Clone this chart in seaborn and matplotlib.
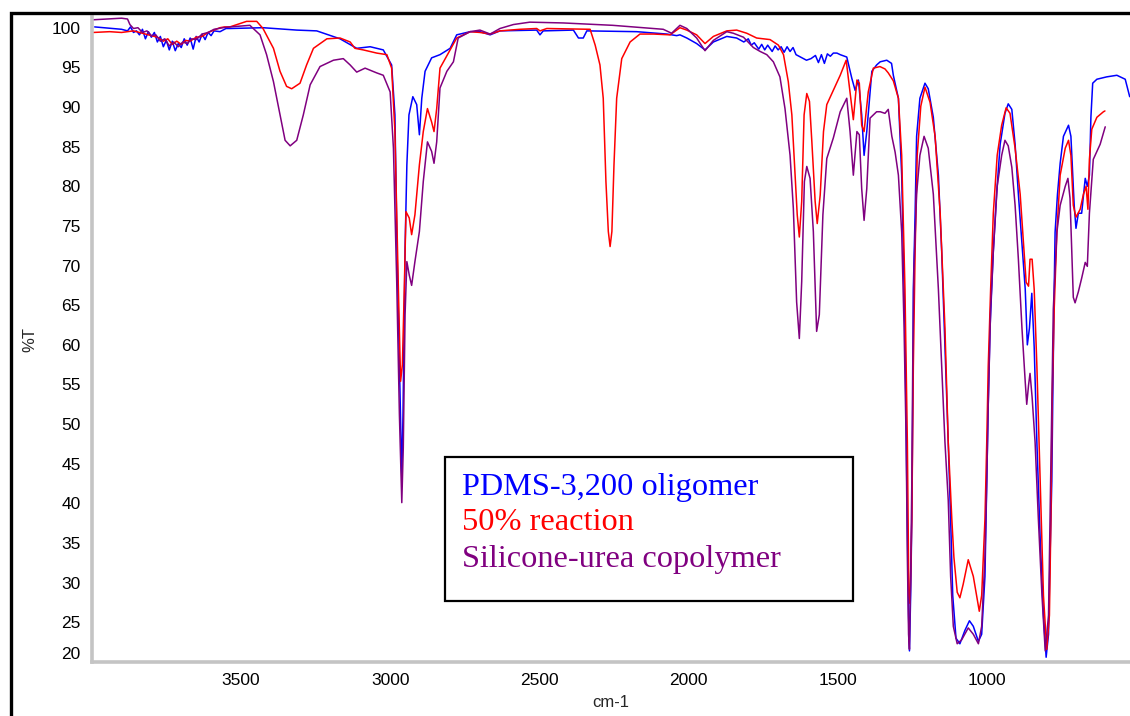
import numpy as np
import pandas as pd
import matplotlib
matplotlib.use("Agg")
import matplotlib.pyplot as plt
import seaborn as sns
from matplotlib.ticker import MultipleLocator
from matplotlib.patches import Rectangle

# ---------------- data (wavenumber cm-1, %T) ----------------
blue_wn = [3990, 3960, 3930, 3900, 3880, 3870, 3860, 3850, 3840, 3830, 3820, 3810, 3800, 3790, 3780,
           3770, 3760, 3750, 3740, 3730, 3720, 3710, 3700, 3690, 3680, 3670, 3660, 3650, 3640, 3630,
           3620, 3610, 3600, 3590, 3570, 3550, 3537, 3426, 3313, 3246, 3168, 3112, 3067, 3023, 2995,
           2984, 2977, 2970, 2961, 2957, 2950, 2944, 2937, 2924, 2911, 2902, 2894, 2883, 2861, 2833,
           2799, 2777, 2732, 2699, 2665, 2632, 2509, 2498, 2487, 2386, 2369, 2353, 2341, 2174, 2073,
           2040, 2029, 2006, 1973, 1945, 1917, 1872, 1839, 1815, 1800, 1790, 1780, 1765, 1755, 1745,
           1735, 1720, 1710, 1700, 1690, 1680, 1670, 1660, 1650, 1640, 1630, 1620, 1605, 1590, 1575,
           1565, 1555, 1545, 1535, 1525, 1515, 1503, 1492, 1470, 1453, 1442, 1431, 1420, 1412, 1403,
           1386, 1370, 1358, 1336, 1320, 1314, 1297, 1286, 1275, 1269, 1263, 1260, 1256, 1252, 1249,
           1247, 1241, 1236, 1225, 1208, 1197, 1180, 1163, 1152, 1141, 1130, 1122, 1115, 1104, 1091,
           1074, 1059, 1046, 1029, 1018, 1007, 1001, 996, 990, 979, 968, 956, 940, 929, 917,
           906, 895, 883, 872, 865, 858, 850, 842, 833, 822, 811, 802, 794, 789, 783,
           780, 775, 772, 764, 755, 744, 727, 719, 713, 708, 702, 694, 683, 671, 664,
           657, 652, 646, 632, 599, 565, 537, 522]
blue_t = [100.1, 100.0, 99.9, 99.8, 99.6, 100.1, 99.4, 99.6, 99.1, 99.8, 98.6, 99.5, 98.8, 99.4, 98.2,
          98.9, 97.6, 98.4, 97.2, 98.3, 97.1, 98.0, 97.5, 98.6, 97.8, 98.7, 97.3, 98.9, 98.2, 99.2,
          98.5, 99.4, 99.0, 99.6, 99.5, 99.9, 99.9, 100.0, 99.7, 99.6, 98.6, 97.4, 97.6, 97.2, 95.3,
          89.0, 72.2, 59.6, 43.2, 51.0, 72.2, 82.7, 89.0, 91.3, 90.3, 86.5, 91.1, 94.5, 96.2, 96.6,
          97.4, 99.1, 99.5, 99.5, 99.1, 99.6, 99.7, 99.1, 99.6, 99.7, 98.7, 98.7, 99.6, 99.5, 99.2,
          99.0, 99.1, 98.7, 98.0, 97.2, 98.2, 98.9, 98.7, 98.2, 98.6, 97.8, 98.1, 97.3, 97.9, 97.2,
          97.8, 97.0, 97.7, 97.2, 97.6, 96.9, 97.6, 97.0, 97.5, 96.6, 96.4, 96.2, 95.9, 96.1, 96.5,
          95.6, 96.6, 95.5, 96.7, 96.4, 96.8, 96.8, 96.6, 96.3, 93.6, 92.1, 93.4, 89.0, 83.9, 86.9,
          94.5, 95.3, 95.7, 95.9, 95.5, 94.0, 91.1, 81.4, 62.1, 42.8, 25.9, 21.4, 28.4, 38.0, 52.5,
          67.0, 76.6, 86.3, 91.1, 93.0, 92.3, 88.7, 81.4, 71.8, 59.7, 47.7, 38.0, 28.4, 23.0, 22.3,
          24.0, 25.2, 24.5, 22.6, 23.5, 30.8, 42.8, 52.5, 62.1, 71.8, 79.0, 85.3, 89.2, 90.4, 89.7,
          85.3, 79.0, 72.8, 67.0, 60.0, 62.1, 66.5, 59.7, 47.7, 35.6, 25.9, 20.6, 23.5, 33.2, 42.8,
          52.5, 67.0, 74.2, 79.0, 82.9, 86.3, 87.7, 86.3, 81.4, 77.6, 74.7, 76.6, 76.6, 81.0, 80.0,
          81.4, 88.7, 93.0, 93.5, 93.8, 94.0, 93.5, 91.3]

red_wn = [3995, 3940, 3900, 3860, 3830, 3800, 3780, 3760, 3745, 3730, 3715, 3700, 3685, 3670, 3650,
          3630, 3610, 3590, 3570, 3555, 3537, 3481, 3447, 3426, 3391, 3369, 3347, 3330, 3302, 3280,
          3257, 3212, 3168, 3134, 3118, 3090, 3045, 3011, 2995, 2984, 2973, 2965, 2959, 2952, 2947,
          2936, 2928, 2917, 2902, 2889, 2875, 2861, 2853, 2844, 2833, 2805, 2777, 2732, 2699, 2665,
          2632, 2565, 2509, 2498, 2475, 2330, 2313, 2297, 2286, 2277, 2269, 2263, 2257, 2250, 2241,
          2224, 2196, 2163, 2118, 2062, 2029, 2006, 1973, 1945, 1917, 1872, 1839, 1805, 1772, 1727,
          1699, 1682, 1666, 1654, 1643, 1636, 1629, 1621, 1613, 1604, 1595, 1587, 1576, 1569, 1559,
          1548, 1537, 1515, 1492, 1472, 1459, 1448, 1436, 1428, 1420, 1412, 1398, 1381, 1359, 1342,
          1331, 1314, 1297, 1286, 1275, 1267, 1262, 1258, 1252, 1247, 1241, 1234, 1222, 1208, 1191,
          1174, 1157, 1141, 1130, 1118, 1111, 1100, 1091, 1080, 1063, 1046, 1026, 1018, 1007, 1001,
          996, 988, 979, 966, 951, 936, 923, 906, 889, 876, 869, 861, 856, 849, 842,
          833, 822, 811, 800, 791, 786, 782, 775, 766, 755, 738, 727, 719, 711, 702,
          688, 677, 668, 662, 657, 649, 632, 610, 605]
red_t = [99.4, 99.5, 99.4, 99.6, 99.3, 99.0, 98.8, 98.3, 98.6, 97.9, 98.3, 97.9, 98.4, 98.3, 98.8,
         98.9, 99.4, 99.7, 100.0, 100.1, 100.1, 100.8, 100.8, 99.9, 97.4, 94.5, 92.6, 92.3, 93.0, 95.3,
         97.4, 98.6, 98.7, 98.2, 97.4, 97.2, 96.8, 96.6, 94.9, 86.9, 68.0, 55.4, 57.5, 68.0, 76.8,
         76.0, 73.9, 76.4, 82.7, 86.9, 89.8, 88.1, 86.9, 89.8, 94.9, 96.8, 98.7, 99.5, 99.4, 99.2,
         99.6, 99.8, 99.9, 99.6, 99.9, 99.8, 97.8, 95.3, 91.1, 80.6, 74.3, 72.4, 74.3, 82.7, 91.1,
         96.1, 98.2, 99.2, 99.2, 99.1, 100.0, 99.7, 99.1, 98.0, 98.9, 99.6, 99.7, 99.3, 98.7, 98.5,
         97.8, 96.6, 93.2, 89.0, 81.4, 76.4, 73.6, 78.1, 89.0, 91.7, 90.7, 85.6, 78.1, 75.3, 78.9,
         86.9, 90.3, 92.1, 94.0, 95.9, 91.9, 88.4, 93.4, 93.0, 87.7, 86.9, 91.9, 94.9, 95.1, 94.8,
         94.3, 93.3, 91.1, 83.9, 67.0, 47.7, 28.4, 27.4, 38.0, 57.3, 71.8, 83.9, 90.1, 92.5, 90.6,
         86.3, 76.6, 62.1, 47.7, 38.0, 33.2, 28.8, 28.1, 29.8, 32.9, 30.8, 26.4, 28.4, 38.0, 47.7,
         57.3, 67.0, 76.6, 83.9, 87.7, 89.9, 89.2, 84.8, 79.0, 71.8, 67.9, 67.4, 70.8, 70.8, 67.0,
         57.3, 42.8, 28.4, 21.6, 25.9, 38.0, 52.5, 64.5, 74.2, 81.4, 84.8, 85.8, 83.9, 77.6, 76.1,
         77.1, 79.0, 80.0, 77.1, 83.4, 87.2, 88.7, 89.4, 89.5]

purple_wn = [3995, 3950, 3900, 3880, 3872, 3860, 3845, 3830, 3815, 3800, 3785, 3770, 3755, 3740, 3725,
             3710, 3695, 3680, 3665, 3650, 3630, 3610, 3590, 3560, 3537, 3470, 3436, 3414, 3391, 3369,
             3352, 3335, 3313, 3291, 3268, 3235, 3190, 3157, 3134, 3112, 3084, 3045, 3023, 3000, 2989,
             2978, 2969, 2961, 2956, 2950, 2944, 2936, 2928, 2917, 2902, 2889, 2875, 2861, 2853, 2844,
             2833, 2810, 2788, 2772, 2732, 2699, 2665, 2632, 2587, 2532, 2420, 2254, 2085, 2057, 2029,
             2006, 1973, 1945, 1917, 1872, 1850, 1816, 1783, 1760, 1738, 1716, 1694, 1677, 1660, 1649,
             1638, 1629, 1621, 1612, 1604, 1593, 1582, 1571, 1562, 1550, 1537, 1515, 1492, 1470, 1459,
             1448, 1436, 1428, 1420, 1412, 1403, 1392, 1370, 1358, 1342, 1331, 1319, 1308, 1297, 1286,
             1278, 1271, 1267, 1263, 1260, 1256, 1252, 1249, 1245, 1236, 1225, 1211, 1197, 1180, 1163,
             1152, 1141, 1130, 1122, 1113, 1100, 1085, 1063, 1046, 1029, 1018, 1007, 1001, 996, 988,
             979, 966, 951, 940, 929, 917, 906, 895, 883, 872, 867, 861, 856, 849, 839,
             828, 816, 805, 794, 789, 783, 778, 766, 755, 738, 729, 722, 716, 711, 705,
             694, 683, 671, 664, 657, 644, 621, 604]
purple_t = [101.0, 101.1, 101.2, 101.1, 100.4, 99.9, 100.0, 99.4, 99.6, 99.0, 99.1, 98.3, 98.6, 97.7, 98.2,
            97.6, 98.2, 98.0, 98.6, 98.5, 99.2, 99.4, 99.8, 100.0, 100.1, 100.3, 99.1, 96.6, 93.2, 89.0,
            85.8, 85.1, 85.8, 89.0, 92.8, 95.1, 95.9, 96.1, 95.3, 94.4, 94.9, 94.3, 94.0, 91.9, 84.8,
            68.0, 51.2, 40.1, 47.0, 63.8, 70.5, 68.8, 67.5, 70.5, 74.3, 80.6, 85.6, 84.4, 82.9, 85.6,
            92.4, 94.5, 95.7, 98.7, 99.5, 99.7, 99.2, 99.9, 100.4, 100.7, 100.6, 100.3, 99.8, 99.3, 100.3,
            99.9, 98.7, 97.1, 98.4, 99.5, 99.3, 98.8, 97.5, 97.0, 96.6, 95.7, 93.8, 89.8, 83.9, 77.2,
            65.4, 60.8, 68.0, 80.6, 82.5, 81.0, 74.3, 61.7, 63.8, 76.4, 83.5, 86.1, 89.4, 91.1, 86.9,
            81.4, 86.9, 86.5, 79.7, 75.7, 79.7, 88.6, 89.4, 89.4, 89.2, 89.7, 86.3, 84.3, 81.4, 74.2,
            62.1, 47.7, 33.2, 23.5, 21.6, 30.8, 42.8, 57.3, 69.4, 79.0, 83.9, 86.3, 84.8, 79.0, 67.0,
            57.3, 47.7, 40.4, 30.8, 24.5, 22.3, 22.8, 24.3, 23.5, 22.3, 24.5, 33.2, 42.8, 52.5, 64.5,
            71.8, 80.0, 83.9, 85.8, 85.1, 82.4, 77.6, 70.8, 62.1, 55.3, 52.5, 54.9, 56.4, 53.4, 47.7,
            38.0, 28.4, 21.4, 25.9, 38.0, 52.5, 64.5, 74.2, 77.6, 80.0, 81.0, 78.5, 71.8, 66.0, 65.3,
            66.7, 68.4, 70.4, 69.9, 76.6, 83.4, 85.3, 87.5]

series_names = ["PDMS-3,200 oligomer", "50% reaction", "Silicone-urea copolymer"]
series_colors = ["#0000FF", "#FF0000", "#800080"]

# ---------------- build long table ----------------
frames = []
for name, wn, t in zip(series_names, [blue_wn, red_wn, purple_wn], [blue_t, red_t, purple_t]):
    frames.append(pd.DataFrame({"wn": wn, "T": t, "sample": name}))
df = pd.concat(frames, ignore_index=True)

sns.set_style("white")
plt.rcParams["font.family"] = ["Liberation Sans", "DejaVu Sans"]

fig = plt.figure(figsize=(11.30, 7.16), dpi=100)
ax = fig.add_axes([91.7 / 1130, 1 - 662 / 716, 1038.3 / 1130, 644.6 / 716])

sns.lineplot(data=df, x="wn", y="T", hue="sample", hue_order=series_names,
             palette=dict(zip(series_names, series_colors)), estimator=None,
             sort=False, legend=False, linewidth=1.1, ax=ax)

ax.set_xlim(4000, 521)
ax.set_ylim(20, 101.3)

ax.xaxis.set_minor_locator(MultipleLocator(100))
ax.yaxis.set_minor_locator(MultipleLocator(1))
ax.set_yticks([20, 25, 30, 35, 40, 45, 50, 55, 60, 65, 70, 75, 80, 85, 90, 95, 100])
ax.set_xticks([3500, 3000, 2500, 2000, 1500, 1000])

for s in ["top", "right"]:
    ax.spines[s].set_visible(False)
for s in ["left", "bottom"]:
    ax.spines[s].set_color("#c4c4c4")
    ax.spines[s].set_linewidth(2.6)

ax.tick_params(axis="both", which="major", direction="out", length=5, width=1,
               color="black", labelsize=12.5, labelcolor="black", pad=3)
ax.tick_params(axis="both", which="minor", direction="out", length=3, width=1, color="black")

for lab in ax.get_yticklabels():
    if lab.get_text() == "20":
        lab.set_verticalalignment("bottom")

ax.set_xlabel("cm-1", fontsize=12, labelpad=5)
ax.set_ylabel("%T", fontsize=12, labelpad=10)
ax.grid(False)

# legend box
box = Rectangle((445 / 1130, 1 - 601 / 716), 408 / 1130, 144 / 716, transform=fig.transFigure,
                fill=False, edgecolor="black", linewidth=1.6, zorder=10)
fig.add_artist(box)
ys = [488, 523, 560]
for name, col, y in zip(series_names, series_colors, ys):
    fig.text(462 / 1130, 1 - y / 716, name, color=col, fontsize=23.3,
             family=["Liberation Serif", "DejaVu Serif"], va="center", ha="left", zorder=11)

# outer frame (left and top edges visible)
frame = Rectangle((10.5 / 1130, -0.2), 1.5, 1.2 - 12.5 / 716, transform=fig.transFigure,
                  fill=False, edgecolor="black", linewidth=2.4, zorder=12)
fig.add_artist(frame)

fig.savefig("out.png", dpi=100, facecolor="white")
